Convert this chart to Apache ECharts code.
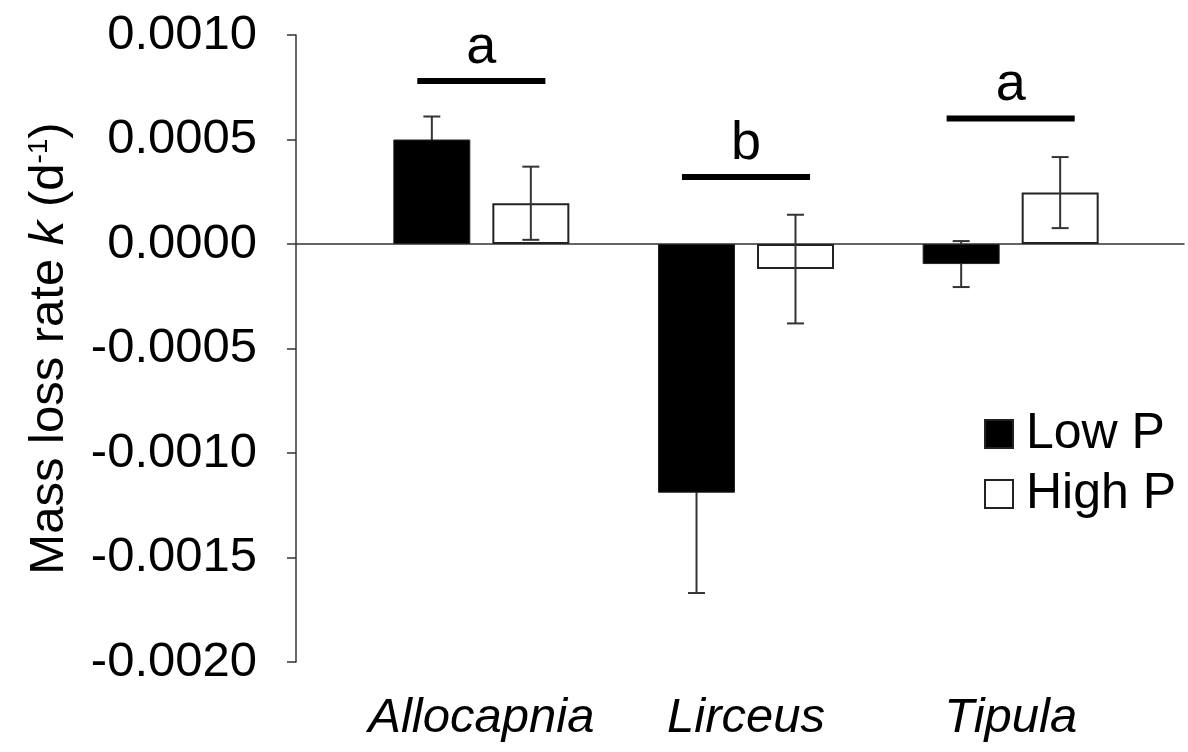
<!DOCTYPE html>
<html>
<head>
<meta charset="utf-8">
<script src="https://cdn.jsdelivr.net/npm/echarts@6/dist/echarts.min.js"></script>
<style>
html,body{margin:0;padding:0;background:#fff;}
#chart{width:1188px;height:752px;}
</style>
</head>
<body>
<div id="chart"></div>
<script>
// ---- data ----
const categories = ['Allocapnia', 'Lirceus', 'Tipula'];
const lowP = [0.0005, -0.00119, -0.000096];
const lowPErr = [0.00011, 0.00048, 0.00011];
const highP = [0.000195, -0.00012, 0.000246];
const highPErr = [0.000175, 0.00026, 0.00017];
const sigLetters = ['a', 'b', 'a'];
const sigLineY = [0.00078, 0.00032, 0.0006];
const yMin = -0.002, yMax = 0.001, yStep = 0.0005;

const FONT = "'Liberation Sans', Arial, sans-serif";
const AX = '#333';

function errSeries(name, means, errs, sign, z) {
  return {
    type: 'custom',
    name: name + ' err',
    xAxisIndex: 1, yAxisIndex: 1,
    z: z,
    silent: true,
    data: means.map((m, i) => [i, m, errs[i]]),
    renderItem: function (params, api) {
      const i = api.value(0), m = api.value(1), e = api.value(2);
      const bw = api.size([1, 0])[0];
      const c = api.coord([i, m]);
      const x = c[0] + sign * bw * 0.187;
      const top = api.coord([i, m + e])[1];
      const bot = api.coord([i, m - e])[1];
      const cw = bw * 0.032;
      const st = { stroke: AX, lineWidth: 2 };
      return {
        type: 'group',
        children: [
          { type: 'line', shape: { x1: x, y1: top, x2: x, y2: bot }, style: st },
          { type: 'line', shape: { x1: x - cw, y1: top, x2: x + cw, y2: top }, style: st },
          { type: 'line', shape: { x1: x - cw, y1: bot, x2: x + cw, y2: bot }, style: st }
        ]
      };
    }
  };
}

const chart = echarts.init(document.getElementById('chart'), null, { renderer: 'canvas' });
chart.setOption({
  animation: false,
  backgroundColor: '#fff',
  textStyle: { fontFamily: FONT },
  grid: [
    { left: 296, right: 4, top: 35, bottom: 90 },
    { left: 349, right: 45, top: 35, bottom: 90 }
  ],
  legend: {
    data: ['Low P', 'High P'],
    orient: 'vertical',
    left: 979, top: 404,
    itemWidth: 28, itemHeight: 28, itemGap: 10,
    icon: 'rect',
    textStyle: { fontSize: 50, color: '#000', fontFamily: FONT, padding: [0, 0, 0, 8] }
  },
  xAxis: [
    {
      type: 'value', gridIndex: 0, min: 0, max: 1,
      axisLine: { show: true, onZero: true, lineStyle: { color: AX, width: 1.5 } },
      axisTick: { show: false }, axisLabel: { show: false }, splitLine: { show: false }
    },
    {
      type: 'category', gridIndex: 1, data: categories,
      axisLine: { show: false, onZero: false }, axisTick: { show: false }, splitLine: { show: false },
      axisLabel: { interval: 0, hideOverlap: false, fontSize: 49, fontStyle: 'italic', color: '#000', margin: 32, fontFamily: FONT }
    }
  ],
  yAxis: [
    {
      type: 'value', gridIndex: 0, min: yMin, max: yMax, interval: yStep,
      axisLine: { show: true, lineStyle: { color: AX, width: 1.5 } },
      axisTick: { show: true, length: 9, lineStyle: { color: AX, width: 1.5 } },
      splitLine: { show: false },
      axisLabel: {
        fontSize: 49, color: '#000', margin: 39, fontFamily: FONT,
        formatter: v => (Math.abs(v) < 1e-12 ? 0 : v).toFixed(4)
      },
      name: 'Mass loss rate {i|k} (d{s|-1})',
      nameLocation: 'middle',
      nameGap: 222,
      nameTextStyle: {
        fontSize: 49, color: '#000', fontFamily: FONT,
        rich: {
          i: { fontSize: 49, fontStyle: 'italic', color: '#000', fontFamily: FONT },
          s: { fontSize: 28, color: '#000', fontFamily: FONT, verticalAlign: 'top', padding: [0, 0, 18, 0] }
        }
      }
    },
    {
      type: 'value', gridIndex: 1, min: yMin, max: yMax, interval: yStep, show: false
    }
  ],
  series: [
    {
      name: 'Low P', type: 'bar', xAxisIndex: 1, yAxisIndex: 1, z: 3,
      data: lowP, barWidth: 77, barGap: '28.6%',
      itemStyle: { color: '#000', borderColor: '#222', borderWidth: 1 }
    },
    {
      name: 'High P', type: 'bar', xAxisIndex: 1, yAxisIndex: 1, z: 3,
      data: highP, barWidth: 77,
      itemStyle: { color: '#fff', borderColor: '#222', borderWidth: 2 }
    },
    errSeries('Low P', lowP, lowPErr, -1, 1),
    errSeries('High P', highP, highPErr, 1, 10),
    {
      type: 'custom', name: 'sig', xAxisIndex: 1, yAxisIndex: 1, z: 10, silent: true,
      data: sigLineY.map((y, i) => [i, y]),
      renderItem: function (params, api) {
        const i = api.value(0), y = api.value(1);
        const c = api.coord([i, y]);
        const bw = api.size([1, 0])[0];
        const half = bw * 0.242;
        return {
          type: 'group',
          children: [
            { type: 'line', shape: { x1: c[0] - half, y1: c[1], x2: c[0] + half, y2: c[1] },
              style: { stroke: '#000', lineWidth: 6 } },
            { type: 'text', style: { text: sigLetters[params.dataIndex], x: c[0], y: c[1] - 6,
                textAlign: 'center', textVerticalAlign: 'bottom', fontSize: 54, fill: '#000', fontFamily: FONT } }
          ]
        };
      }
    }
  ]
});
</script>
</body>
</html>
